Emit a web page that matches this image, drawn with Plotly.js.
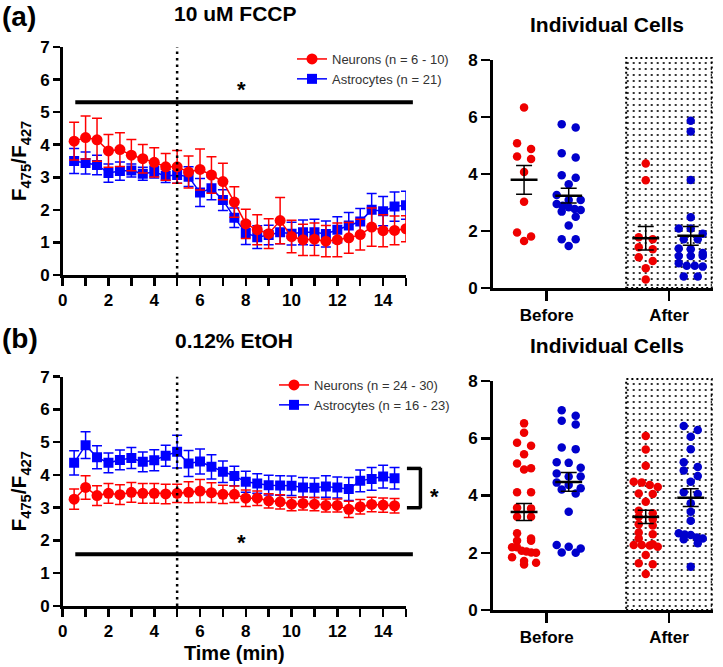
<!DOCTYPE html>
<html><head><meta charset="utf-8">
<script src="https://cdn.plot.ly/plotly-3.0.1.min.js"></script>
<style>html,body{margin:0;padding:0;background:#fff}#chart{width:723px;height:667px}</style>
</head><body><div id="chart"></div>
<script>
// ---------------- DATA ----------------
const timeA = [0.5,1,1.5,2,2.5,3,3.5,4,4.5,5,5.5,6,6.5,7,7.5,8,8.5,9,9.5,10,10.5,11,11.5,12,12.5,13,13.5,14,14.5,15];
const neuronA = [4.11,4.22,4.15,3.81,3.85,3.68,3.57,3.46,3.32,3.32,3.16,3.24,3.07,2.87,2.24,1.57,1.39,1.27,1.67,1.18,1.08,1.10,1.04,1.08,1.14,1.24,1.47,1.36,1.37,1.42];
const neuronA_sem = [0.58,0.66,0.66,0.50,0.52,0.48,0.44,0.45,0.41,0.50,0.49,0.63,0.56,0.56,0.47,0.45,0.46,0.46,0.71,0.50,0.48,0.50,0.48,0.52,0.47,0.47,0.59,0.49,0.44,0.40];
const astroA = [3.50,3.44,3.38,3.13,3.19,3.21,3.11,3.16,3.04,3.07,3.02,2.53,2.66,2.30,1.76,1.29,1.16,1.23,1.31,1.27,1.31,1.31,1.26,1.39,1.52,1.64,2.00,1.96,2.10,2.14];
const astroA_sem = [0.38,0.34,0.30,0.28,0.28,0.20,0.20,0.18,0.20,0.25,0.30,0.43,0.35,0.32,0.30,0.35,0.35,0.30,0.35,0.35,0.38,0.40,0.40,0.40,0.40,0.40,0.50,0.45,0.45,0.43];

const timeB = [0.5,1,1.5,2,2.5,3,3.5,4,4.5,5,5.5,6,6.5,7,7.5,8,8.5,9,9.5,10,10.5,11,11.5,12,12.5,13,13.5,14,14.5];
const neuronB = [3.26,3.62,3.37,3.44,3.40,3.47,3.44,3.44,3.42,3.44,3.47,3.51,3.46,3.41,3.41,3.29,3.29,3.21,3.18,3.11,3.13,3.11,3.07,3.07,2.95,3.03,3.10,3.08,3.06];
const neuronB_sem = [0.31,0.36,0.30,0.30,0.30,0.30,0.30,0.30,0.30,0.28,0.32,0.35,0.30,0.28,0.25,0.25,0.22,0.22,0.22,0.20,0.20,0.20,0.20,0.20,0.25,0.22,0.22,0.22,0.22];
const astroB = [4.37,4.91,4.54,4.37,4.46,4.52,4.40,4.45,4.59,4.71,4.35,4.41,4.25,4.10,3.97,3.79,3.74,3.69,3.68,3.67,3.62,3.61,3.65,3.62,3.57,3.82,3.88,3.95,3.90];
const astroB_sem = [0.37,0.41,0.35,0.30,0.30,0.32,0.30,0.32,0.32,0.50,0.40,0.38,0.37,0.33,0.30,0.32,0.30,0.30,0.30,0.30,0.30,0.30,0.33,0.32,0.35,0.33,0.35,0.35,0.33];

const timeTicks = [0,1,2,3,4,5,6,7,8,9,10,11,12,13,14,15];
const timeTickText = ['0','','2','','4','','6','','8','','10','','12','','14',''];
const cellGroups = ['Before','After'];

// individual cells, panel (a)
const cellsA_neuronBefore = [6.33,5.08,4.88,4.61,4.53,4.07,3.03,1.95,1.81,1.65];
const cellsA_astroBefore = [5.75,5.63,4.73,4.58,3.96,3.87,3.64,3.26,3.09,3.09,2.95,2.89,2.83,2.77,2.74,2.68,2.50,2.19,1.71,1.71,1.47];
const cellsA_neuronAfter = [4.37,3.78,1.78,1.71,1.43,1.36,1.08,0.95,0.69,0.30];
const cellsA_astroAfter = [5.87,5.49,3.79,2.48,2.09,2.09,1.90,1.71,1.71,1.39,1.36,1.23,1.12,1.12,1.12,0.87,0.78,0.78,0.75,0.40,0.40];
// individual cells, panel (b)
const cellsB_neuronBefore = [6.52,6.19,5.84,5.74,5.44,5.12,4.95,4.91,4.11,4.11,3.57,3.55,3.26,3.26,2.68,2.50,2.42,2.42,2.19,2.19,2.07,2.04,2.01,2.00,1.84,1.71,1.65,1.59];
const cellsB_astroBefore = [6.98,6.79,6.61,6.48,5.68,5.62,5.16,5.14,4.97,4.77,4.66,4.66,4.45,4.37,4.25,4.21,4.07,3.43,2.27,2.21,2.15,2.01,2.00];
const cellsB_neuronAfter = [6.08,5.61,5.04,4.48,4.45,4.37,4.30,4.07,4.05,3.78,3.47,3.38,3.26,3.17,3.00,2.95,2.71,2.65,2.50,2.30,2.27,2.27,2.25,2.21,1.92,1.63,1.60,1.26];
const cellsB_astroAfter = [6.43,6.29,6.05,5.62,5.16,5.00,4.87,4.68,4.48,4.11,4.05,3.73,3.43,3.12,2.68,2.64,2.62,2.53,2.50,2.47,2.33,1.51];

// ---------------- STYLE / LAYOUT ----------------
const W = 723, H = 667;
const RED = '#ff0000', BLUE = '#0000ff', DOTRED = '#ee0000', DOTBLUE = '#0000cc';
const FONT = 'Liberation Sans, Arial, sans-serif';
const bold = (s, c) => ({family: FONT, size: s, color: c || '#000', weight: 700});

const dom = {
  x1: [62.7/W, 406/W],  y1: [1-275/H, 1-47/H],
  x2: [62.7/W, 406/W],  y2: [1-606/H, 1-376.7/H],
  x3: [492.7/W, 713/W], y3: [1-288/H, 1-60/H],
  x4: [492.7/W, 713/W], y4: [1-610/H, 1-381/H]
};
const rangeT = [0, 15], rangeY = [0, 7], rangeC = [-0.4415, 1.36], rangeCY = [0, 8];
const frac = (v, r) => (v - r[0]) / (r[1] - r[0]);

function swarm(values, center, pxX, pxY) {
  const idx = values.map((v, i) => i).sort((a, b) => values[b] - values[a]);
  const xs = new Array(values.length);
  const rowH = 6 / pxY;
  const rows = []; let cur = [];
  idx.forEach(i => {
    if (cur.length && values[cur[0]] - values[i] > rowH) { rows.push(cur); cur = []; }
    cur.push(i);
  });
  if (cur.length) rows.push(cur);
  rows.forEach(r => {
    const k = r.length;
    const step = k > 1 ? Math.min(14, 24 / (k - 1)) : 0;
    r.forEach((i, j) => { xs[i] = center + (j - (k - 1) / 2) * step / pxX; });
  });
  return xs;
}
const mean = a => a.reduce((s, v) => s + v, 0) / a.length;
const sem = a => { const m = mean(a); const v = a.reduce((s, x) => s + (x - m) * (x - m), 0) / (a.length - 1); return Math.sqrt(v / a.length); };

const traces = [];
function timeTraces(xa, ya, t, n, nsem, a, asem, nName, aName, leg) {
  traces.push({x: t, y: a, xaxis: xa, yaxis: ya, type: 'scatter', mode: 'lines+markers', name: aName,
    legend: leg, legendrank: 2,
    line: {color: BLUE, width: 1.5}, marker: {symbol: 'square', size: 10, color: BLUE},
    error_y: {type: 'data', array: asem, visible: true, color: BLUE, thickness: 1.5, width: 5}});
  traces.push({x: t, y: n, xaxis: xa, yaxis: ya, type: 'scatter', mode: 'lines+markers', name: nName,
    legend: leg, legendrank: 1,
    line: {color: RED, width: 1.5}, marker: {symbol: 'circle', size: 11, color: RED},
    error_y: {type: 'data', array: nsem, visible: true, color: RED, thickness: 1.5, width: 5}});
}
timeTraces('x', 'y', timeA, neuronA, neuronA_sem, astroA, astroA_sem, 'Neurons (n = 6 - 10)', 'Astrocytes (n = 21)', 'legend');
timeTraces('x2', 'y2', timeB, neuronB, neuronB_sem, astroB, astroB_sem, 'Neurons (n = 24 - 30)', 'Astrocytes (n = 16 - 23)', 'legend2');

function cellPanel(xa, ya, dx, dy, groups) {
  const pxX = (dx[1] - dx[0]) * W / (rangeC[1] - rangeC[0]);
  const pxY = (dy[1] - dy[0]) * H / (rangeCY[1] - rangeCY[0]);
  // stippled "After" region
  traces.push({x: [1], y: [8.07], base: [0], width: [0.70], type: 'bar', xaxis: xa, yaxis: ya,
    showlegend: false, hoverinfo: 'skip', cliponaxis: false,
    marker: {color: 'white', line: {width: 0},
      pattern: {shape: '.', fgcolor: '#000', bgcolor: '#fff', size: 6, solidity: 0.1}}});
  const cents = [];
  groups.forEach(g => {
    const c = g.pos + g.off;
    traces.push({x: swarm(g.vals, c, pxX, pxY), y: g.vals, xaxis: xa, yaxis: ya, type: 'scatter', mode: 'markers',
      showlegend: false, marker: {symbol: 'circle', size: 8.5, color: g.color}});
    cents.push([c, g.vals]);
  });
  cents.forEach(([c, v]) => {
    const m = mean(v);
    traces.push({x: [c - 0.11, c + 0.11], y: [m, m], xaxis: xa, yaxis: ya, type: 'scatter', mode: 'lines',
      showlegend: false, line: {color: '#000', width: 2.5}});
    traces.push({x: [c], y: [m], xaxis: xa, yaxis: ya, type: 'scatter', mode: 'markers', showlegend: false,
      marker: {size: 1, color: 'rgba(0,0,0,0)'},
      error_y: {type: 'data', array: [sem(v)], visible: true, color: '#000', thickness: 1.5, width: 8}});
  });
}
const B = cellGroups.indexOf('Before'), A = cellGroups.indexOf('After');
cellPanel('x3', 'y3', dom.x3, dom.y3, [
  {vals: cellsA_neuronBefore, pos: B, off: -0.185, color: DOTRED},
  {vals: cellsA_astroBefore, pos: B, off: 0.18, color: DOTBLUE},
  {vals: cellsA_neuronAfter, pos: A, off: -0.19, color: DOTRED},
  {vals: cellsA_astroAfter, pos: A, off: 0.178, color: DOTBLUE}]);
cellPanel('x4', 'y4', dom.x4, dom.y4, [
  {vals: cellsB_neuronBefore, pos: B, off: -0.185, color: DOTRED},
  {vals: cellsB_astroBefore, pos: B, off: 0.18, color: DOTBLUE},
  {vals: cellsB_neuronAfter, pos: A, off: -0.19, color: DOTRED},
  {vals: cellsB_astroAfter, pos: A, off: 0.178, color: DOTBLUE}]);

const axBase = {showgrid: false, zeroline: false, showline: true, linecolor: '#000', linewidth: 2.5,
  ticks: 'outside', tickcolor: '#000', tickwidth: 2.5, tickfont: bold(17), fixedrange: true};
const timeX = (d, anchor, title) => Object.assign({}, axBase, {domain: d, anchor: anchor, range: rangeT,
  tickmode: 'array', tickvals: timeTicks, ticktext: timeTickText, ticklen: 8,
  title: title ? {text: title, font: bold(20), standoff: 6} : {text: ''}});
const ratioY = (d, anchor) => Object.assign({}, axBase, {domain: d, anchor: anchor, range: rangeY, dtick: 1, ticklen: 7,
  title: {text: 'F<sub>475</sub>/F<sub>427</sub>', font: bold(21), standoff: 8}});
const cellX = (d, anchor) => Object.assign({}, axBase, {domain: d, anchor: anchor, range: rangeC,
  tickmode: 'array', tickvals: [B, A], ticktext: cellGroups, ticklen: 10});
const cellY = (d, anchor) => Object.assign({}, axBase, {domain: d, anchor: anchor, range: rangeCY,
  tickmode: 'array', tickvals: [0, 2, 4, 6, 8], ticklen: 9});

const shapes = [];
function line(xr, yr, x0, y0, x1, y1, w, dash) {
  shapes.push({type: 'line', xref: xr + ' domain', yref: yr + ' domain', x0: x0, y0: y0, x1: x1, y1: y1,
    line: {color: '#000', width: w, dash: dash || 'solid'}});
}
// treatment onset at 5 min
line('x', 'y', frac(5, rangeT), 0, frac(5, rangeT), 1, 2.5, '2.5px,4px');
line('x2', 'y2', frac(5, rangeT), 0, frac(5, rangeT), 1, 2.5, '2.5px,4px');
// significance bars
line('x', 'y', frac(0.55, rangeT), frac(5.3, rangeY), frac(15.3, rangeT), frac(5.3, rangeY), 4);
line('x2', 'y2', frac(0.55, rangeT), frac(1.58, rangeY), frac(15.3, rangeT), frac(1.58, rangeY), 4);
// bracket (b)
line('x2', 'y2', frac(15.04, rangeT), frac(4.2, rangeY), frac(15.65, rangeT), frac(4.2, rangeY), 3.5);
line('x2', 'y2', frac(15.63, rangeT), frac(4.22, rangeY), frac(15.63, rangeT), frac(2.98, rangeY), 3.5);
line('x2', 'y2', frac(15.04, rangeT), frac(3.0, rangeY), frac(15.65, rangeT), frac(3.0, rangeY), 3.5);
// stippled region border
['x3|y3', 'x4|y4'].forEach(p => {
  const [xr, yr] = p.split('|');
  shapes.push({type: 'rect', xref: xr + ' domain', yref: yr + ' domain',
    x0: frac(0.65, rangeC), x1: frac(1.35, rangeC), y0: 0, y1: frac(8.07, rangeCY),
    line: {color: '#000', width: 2, dash: '2px,3px'}, fillcolor: 'rgba(0,0,0,0)'});
});

const ann = (text, x, y, size, extra) => Object.assign({text: text, xref: 'paper', yref: 'paper',
  x: x / W, y: 1 - y / H, xanchor: 'center', yanchor: 'middle', showarrow: false, font: bold(size)}, extra || {});
const annotations = [
  ann('(a)', 0, 17, 28, {xanchor: 'left'}),
  ann('10 uM FCCP', 235, 13, 21),
  ann('Individual Cells', 607, 24, 21),
  ann('(b)', 0, 338, 28, {xanchor: 'left'}),
  ann('0.12% EtOH', 234, 340, 21),
  ann('Individual Cells', 607, 345, 21),
  ann('*', 242, 90, 22),
  ann('*', 242, 542, 22),
  ann('*', 434, 496, 22)
];

const legendStyle = (x, y) => ({x: x / W, y: 1 - y / H, xanchor: 'left', yanchor: 'top', bgcolor: 'rgba(0,0,0,0)',
  font: {family: FONT, size: 13, color: '#333'}, tracegroupgap: 0, itemwidth: 30});

const layout = {
  width: W, height: H, margin: {l: 0, r: 0, t: 0, b: 0}, paper_bgcolor: '#fff', plot_bgcolor: 'rgba(0,0,0,0)',
  showlegend: true,
  legend: legendStyle(292, 44),
  legend2: legendStyle(274, 370),
  xaxis: timeX(dom.x1, 'y'), yaxis: ratioY(dom.y1, 'x'),
  xaxis2: timeX(dom.x2, 'y2', 'Time (min)'), yaxis2: ratioY(dom.y2, 'x2'),
  xaxis3: cellX(dom.x3, 'y3'), yaxis3: cellY(dom.y3, 'x3'),
  xaxis4: cellX(dom.x4, 'y4'), yaxis4: cellY(dom.y4, 'x4'),
  shapes: shapes, annotations: annotations, bargap: 0
};
Plotly.newPlot('chart', traces, layout, {displayModeBar: false, staticPlot: true});
</script></body></html>
